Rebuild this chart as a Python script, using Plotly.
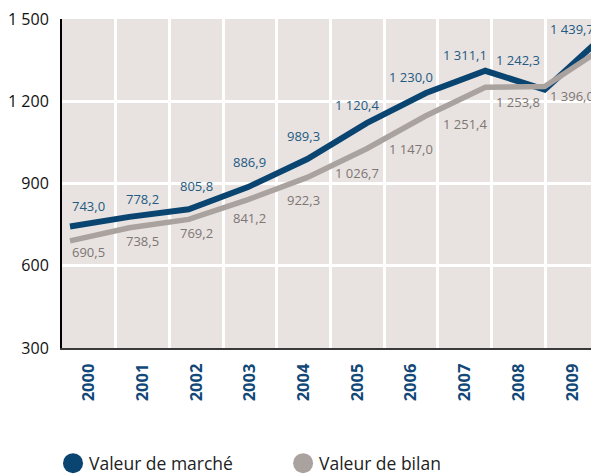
import plotly.graph_objects as go

years = ["2000", "2001", "2002", "2003", "2004", "2005", "2006", "2007", "2008", "2009"]
market = [743.0, 778.2, 805.8, 886.9, 989.3, 1120.4, 1230.0, 1311.1, 1242.3, 1439.7]
book = [690.5, 738.5, 769.2, 841.2, 922.3, 1026.7, 1147.0, 1251.4, 1253.8, 1396.0]
y_ticks = [300, 600, 900, 1200, 1500]
series_names = ["Valeur de marché", "Valeur de bilan"]

# label offsets in pixels (positive = up)
market_label_shift = [21, 18, 23, 25, 23, 18, 16, 16, 30, 7]
book_label_shift = [-11, -13, -14, -18, -23, -24, -33, -37, -15, -48]

BLUE = "#0A4470"
GRAY = "#A9A29F"
BLUE_TXT = "#235A82"
GRAY_TXT = "#7D7673"
BG = "#E8E3E1"
FONT = "Open Sans"


def fr(v, dec=1):
    s = f"{v:,.{dec}f}"
    return s.replace(",", " ").replace(".", ",")


idx = list(range(len(years)))

fig = go.Figure()
fig.add_trace(go.Scatter(x=idx, y=market, mode="lines", xaxis="x2",
                         line=dict(color=BLUE, width=6), name=series_names[0],
                         showlegend=False, hoverinfo="skip"))
fig.add_trace(go.Scatter(x=idx, y=book, mode="lines", xaxis="x2",
                         line=dict(color=GRAY, width=5.5), name=series_names[1],
                         showlegend=False, hoverinfo="skip"))
# invisible trace to establish category axis
fig.add_trace(go.Scatter(x=years, y=market, mode="markers", marker=dict(opacity=0),
                         showlegend=False, hoverinfo="skip"))

annotations = []
for i in idx:
    annotations.append(dict(x=i, y=market[i], xref="x", yref="y", text=fr(market[i]),
                            showarrow=False, yshift=market_label_shift[i],
                            xanchor="center", yanchor="middle",
                            font=dict(family=FONT, size=13, color=BLUE_TXT)))
    annotations.append(dict(x=i, y=book[i], xref="x", yref="y", text=fr(book[i]),
                            showarrow=False, yshift=book_label_shift[i],
                            xanchor="center", yanchor="middle",
                            font=dict(family=FONT, size=13, color=GRAY_TXT)))

# manual legend
legend_items = [(series_names[0], BLUE, 0.0205), (series_names[1], GRAY, 0.449)]
shapes = []
for name, col, px0 in legend_items:
    shapes.append(dict(type="circle", xref="paper", yref="paper", xsizemode="pixel",
                       ysizemode="pixel", xanchor=px0, yanchor=-0.35,
                       x0=-10, x1=10, y0=-10, y1=10, fillcolor=col, line=dict(width=0)))
    annotations.append(dict(x=px0, y=-0.35, xref="paper", yref="paper", text=name,
                            showarrow=False, xanchor="left", yanchor="middle", xshift=14,
                            font=dict(family=FONT, size=17.5, color="#222222")))

# the page body adds an 8px offset, compensated in the margins
fig.update_layout(
    width=599, height=475,
    margin=dict(l=54, r=8, t=11, b=135),
    paper_bgcolor="white", plot_bgcolor=BG,
    font=dict(family=FONT),
    showlegend=False,
    annotations=annotations,
    shapes=shapes,
    xaxis=dict(type="category", tickson="boundaries", showgrid=True, gridcolor="white",
               gridwidth=3, tickangle=-90, ticks="", ticklabelstandoff=7,
               tickfont=dict(family=FONT, size=16.5, color="#124878", weight="bold"),
               showline=True, linecolor="#3a3a3a", linewidth=2, zeroline=False,
               range=[-0.5, 9.5], automargin=False),
    xaxis2=dict(overlaying="x", range=[-0.135, 8.916], visible=False),
    yaxis=dict(range=[300, 1500], tickvals=y_ticks, ticktext=[fr(v, 0) for v in y_ticks],
               showgrid=True, gridcolor="white", gridwidth=2.5, zeroline=False,
               showline=True, linecolor="black", linewidth=2, ticks="",
               ticklabelstandoff=8, automargin=False, ticklabeloverflow="allow",
               tickfont=dict(family=FONT, size=16, color="#111111")),
)

fig.write_html("out.html")
